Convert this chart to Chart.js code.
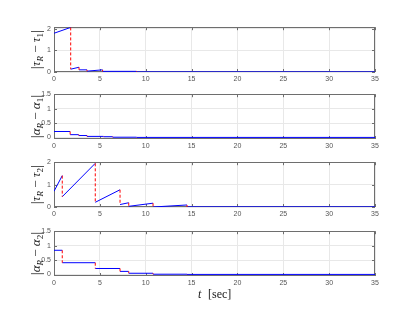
<!DOCTYPE html>
<html><head><meta charset="utf-8">
<script src="https://cdn.jsdelivr.net/npm/chart.js@4/dist/chart.umd.min.js"></script>
<style>
html,body{margin:0;padding:0;background:#fff;}
#wrap{position:relative;width:415px;height:310px;overflow:hidden;}
canvas{position:absolute;left:0;}
</style></head>
<body><div id="wrap">
<canvas id="c1" style="top:20px"></canvas>
<canvas id="c2" style="top:87px"></canvas>
<canvas id="c3" style="top:155px"></canvas>
<canvas id="c4" style="top:224px"></canvas>
</div>
<script>
// ---- data ----
const xTicks = [0, 5, 10, 15, 20, 25, 30, 35];
// subplot 1: |tau_R - tau_1| (sawtooth between events)
const tEvents1 = [0, 1.82, 2.73, 3.6, 5.3, 9.0, 35];
const tau1Start = [1.79, 0.13, 0.10, 0.04, 0.03, 0.005];
const tau1End   = [2.06, 0.22, 0.10, 0.10, 0.03, 0.005];
// subplot 2: |alpha_R - alpha_1| (steps)
const tEventsA1 = [0, 1.76, 2.7, 3.6, 5.4, 6.4, 9.0, 35];
const alpha1    = [0.21, 0.10, 0.07, 0.04, 0.03, 0.012, 0.005];
// subplot 3: |tau_R - tau_2|
const tEvents2 = [0, 0.9, 4.5, 7.2, 8.15, 10.8, 14.5, 35];
const tau2Start = [0.70, 0.46, 0.21, 0.11, 0.03, 0.0, 0.006];
const tau2End   = [1.40, 1.95, 0.77, 0.19, 0.17, 0.09, 0.006];
// subplot 4: |alpha_R - alpha_2|
const tEventsA2 = [0, 0.9, 4.5, 7.2, 8.15, 10.8, 14.5, 35];
const alpha2    = [0.84, 0.41, 0.21, 0.11, 0.045, 0.012, 0.005];

const yTicks1 = [0, 1, 2];
const yTicks2 = [0, 0.5, 1, 1.5];
const yTicks3 = [0, 1, 2];
const yTicks4 = [0, 0.5, 1, 1.5];

function segs(t, s, e) {
  const blue = [], red = [];
  for (let i = 0; i < s.length; i++) {
    blue.push({x: t[i], y: s[i]}, {x: t[i+1], y: e[i]}, {x: t[i+1], y: null});
    if (i + 1 < s.length) red.push({x: t[i+1], y: e[i]}, {x: t[i+1], y: s[i+1]}, {x: t[i+1], y: null});
  }
  return {blue, red};
}

const FONT = "'Liberation Sans', Arial, sans-serif";
const SERIF = "'Liberation Serif', 'DejaVu Serif', serif";

const boxPlugin = {
  id: 'box',
  beforeDatasetsDraw(chart) {
    const {ctx, chartArea: a} = chart;
    ctx.save();
    ctx.strokeStyle = '#6e6e6e';
    ctx.lineWidth = 1;
    ctx.strokeRect(Math.round(a.left) + 0.5, Math.round(a.top) + 0.5, Math.round(a.right - a.left) - 1, Math.round(a.bottom - a.top) - 1);
    ctx.beginPath();
    const xs = chart.scales.x, ys = chart.scales.y;
    xs.ticks.forEach(tk => {
      const px = Math.round(xs.getPixelForValue(tk.value)) + 0.5;
      ctx.moveTo(px, a.bottom); ctx.lineTo(px, a.bottom - 3);
      ctx.moveTo(px, a.top); ctx.lineTo(px, a.top + 3);
    });
    ys.ticks.forEach(tk => {
      const py = Math.round(ys.getPixelForValue(tk.value)) + 0.5;
      ctx.moveTo(a.left, py); ctx.lineTo(a.left + 3, py);
      ctx.moveTo(a.right, py); ctx.lineTo(a.right - 3, py);
    });
    ctx.stroke();
    ctx.restore();
  },
  afterDraw(chart) {
    const {ctx, chartArea: a} = chart;
    ctx.save();
    const parts = chart.options.plugins.box.label;
    if (parts) {
      const cy = (a.top + a.bottom) / 2, cx = 37;
      ctx.translate(cx, cy);
      ctx.rotate(-Math.PI / 2);
      let w = 0;
      const fnt = p => (p.it ? 'italic ' : '') + (p.sub ? 9 : (p.big ? 15 : 13)) + 'px ' + SERIF;
      const meas = parts.map(p => { ctx.font = fnt(p); const m = ctx.measureText(p.t).width; w += m; return m; });
      let x = -w / 2;
      ctx.fillStyle = '#1a1a1a';
      ctx.textBaseline = 'middle';
      parts.forEach((p, i) => {
        ctx.font = fnt(p);
        ctx.fillText(p.t, x, p.sub ? 4 : 0);
        x += meas[i];
      });
      ctx.setTransform(1, 0, 0, 1, 0, 0);
    }
    if (chart.options.plugins.box.xlabel) {
      ctx.fillStyle = '#1a1a1a';
      ctx.textBaseline = 'middle';
      ctx.font = 'italic 12px ' + SERIF;
      ctx.fillText('t', 198, a.bottom + 19);
      ctx.font = '12px ' + SERIF;
      ctx.fillText('[sec]', 208, a.bottom + 19);
    }
    ctx.restore();
  }
};

function makeChart(id, canvasH, padBottom, t, s, e, ymin, ymax, yticks, label, xlabel) {
  const cv = document.getElementById(id);
  cv.width = 415; cv.height = canvasH;
  cv.style.width = '415px'; cv.style.height = canvasH + 'px';
  const d = segs(t, s, e);
  new Chart(cv, {
    type: 'line',
    data: {
      datasets: [
        {data: d.red, borderColor: '#ff0000', borderWidth: 1, borderDash: [3, 2], pointRadius: 0, spanGaps: false, tension: 0},
        {data: d.blue, borderColor: '#0000ff', borderWidth: 1, pointRadius: 0, spanGaps: false, tension: 0}
      ]
    },
    options: {
      responsive: false, animation: false, devicePixelRatio: 1,
      layout: {padding: {left: 0, right: 40, top: 4, bottom: padBottom}},
      plugins: {legend: {display: false}, tooltip: {enabled: false}, box: {label, xlabel}},
      scales: {
        x: {
          type: 'linear', min: 0, max: 35,
          afterFit: sc => { sc.height = 14; },
          afterBuildTicks: sc => { sc.ticks = xTicks.map(v => ({value: v})); },
          ticks: {font: {family: FONT, size: 7}, color: '#555', padding: 3, maxRotation: 0, autoSkip: false, callback: v => String(v)},
          grid: {color: '#e8e8e8', lineWidth: 1, drawTicks: false},
          border: {display: false}
        },
        y: {
          type: 'linear', min: ymin, max: ymax,
          afterFit: sc => { sc.width = 54; },
          afterBuildTicks: sc => { sc.ticks = yticks.map(v => ({value: v})); },
          ticks: {font: {family: FONT, size: 7}, color: '#555', padding: 3, autoSkip: false, callback: v => String(+v.toFixed(2))},
          grid: {color: '#e8e8e8', lineWidth: 1, drawTicks: false},
          border: {display: false}
        }
      }
    },
    plugins: [boxPlugin]
  });
}

const L1 = [{t:'|',big:1},{t:'τ',it:1},{t:'R',it:1,sub:1},{t:' − '},{t:'τ',it:1},{t:'1',sub:1},{t:'|',big:1}];
const L2 = [{t:'|',big:1},{t:'α',it:1},{t:'R',it:1,sub:1},{t:' − '},{t:'α',it:1},{t:'1',sub:1},{t:'|',big:1}];
const L3 = [{t:'|',big:1},{t:'τ',it:1},{t:'R',it:1,sub:1},{t:' − '},{t:'τ',it:1},{t:'2',sub:1},{t:'|',big:1}];
const L4 = [{t:'|',big:1},{t:'α',it:1},{t:'R',it:1,sub:1},{t:' − '},{t:'α',it:1},{t:'2',sub:1},{t:'|',big:1}];

makeChart('c1', 66, 0, tEvents1, tau1Start, tau1End, 0, 2.07, yTicks1, L1, false);
makeChart('c2', 66, 0, tEventsA1, alpha1, alpha1, -0.05, 1.5, yTicks2, L2, false);
makeChart('c3', 66, 0, tEvents2, tau2Start, tau2End, 0, 2, yTicks3, L3, false);
makeChart('c4', 86, 20, tEventsA2, alpha2, alpha2, -0.05, 1.5, yTicks4, L4, true);
</script>
</body></html>
